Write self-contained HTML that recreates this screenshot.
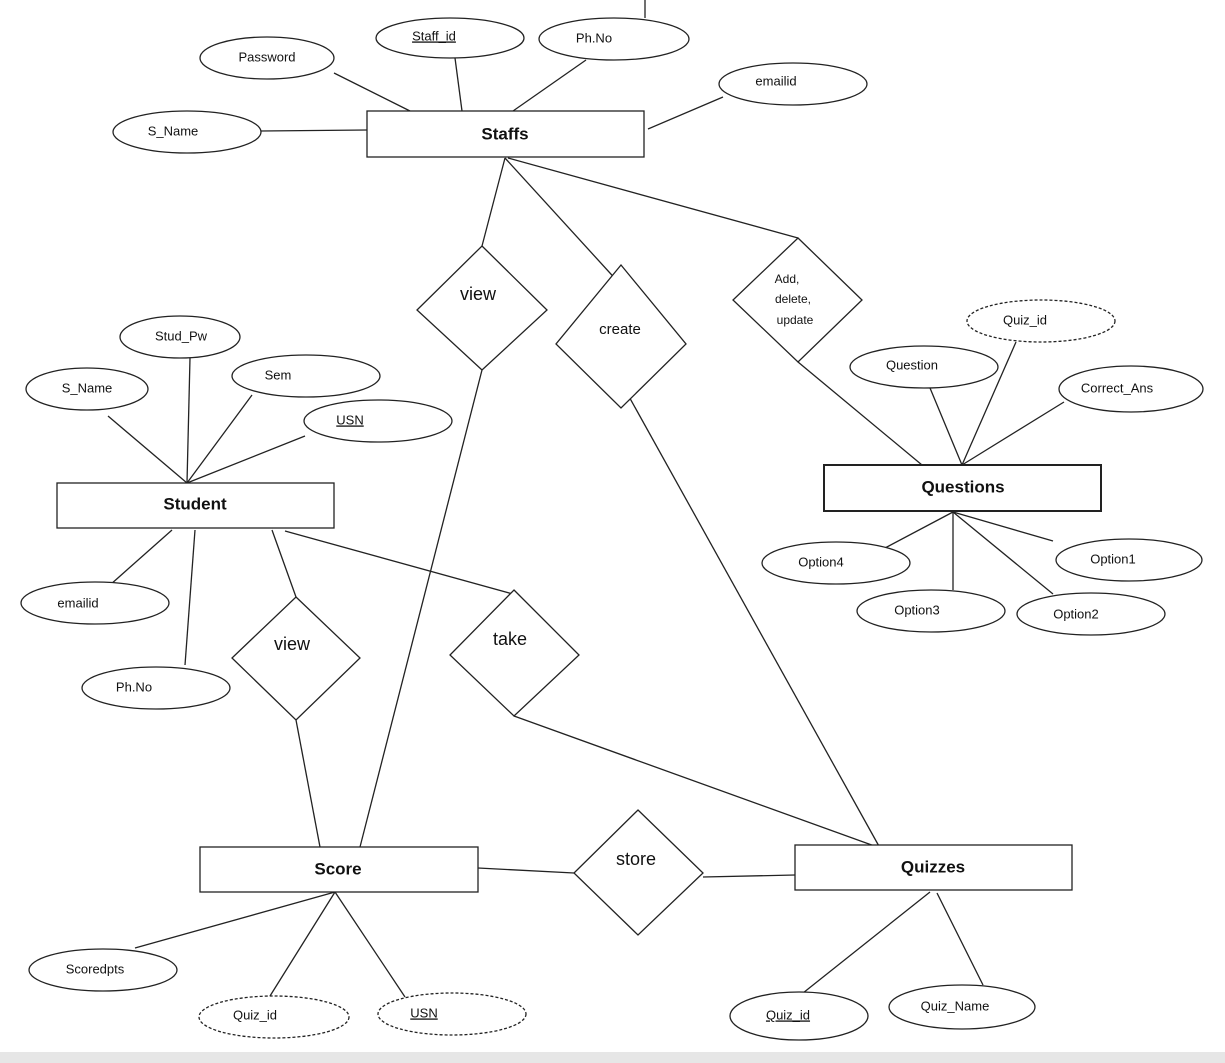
<!DOCTYPE html>
<html><head><style>
html,body{margin:0;padding:0;background:#fff;}
svg{display:block;}
text{font-family:"Liberation Sans",sans-serif;fill:#111;}
.a{font-size:13px;text-anchor:middle;dominant-baseline:middle;}
.e{font-size:17px;font-weight:bold;text-anchor:middle;dominant-baseline:middle;}
.d{font-size:18px;text-anchor:middle;dominant-baseline:middle;}
</style></head><body>
<svg width="1225" height="1063" viewBox="0 0 1225 1063" xmlns="http://www.w3.org/2000/svg">
<rect x="0" y="0" width="1225" height="1063" fill="#fff"/>
<rect x="0" y="1052" width="1225" height="11" fill="#e6e6e6"/>
<g stroke="#222" stroke-width="1.3" fill="none">
<line x1="645" y1="0" x2="645" y2="18"/>
<!-- staffs lines -->
<line x1="334" y1="73" x2="410" y2="111"/>
<line x1="455" y1="58" x2="462" y2="111"/>
<line x1="586" y1="60" x2="513" y2="111"/>
<line x1="723" y1="97" x2="648" y2="129"/>
<line x1="261" y1="131" x2="367" y2="130"/>
<line x1="505" y1="158" x2="482" y2="246"/>
<line x1="505" y1="158" x2="620" y2="284"/>
<line x1="508" y1="158" x2="798" y2="238"/>
<line x1="482" y1="370" x2="360" y2="847"/>
<line x1="622" y1="384" x2="880" y2="848"/>
<line x1="798" y1="362" x2="922" y2="465"/>
<!-- questions -->
<line x1="930" y1="388" x2="962" y2="465"/>
<line x1="1016" y1="342" x2="962" y2="465"/>
<line x1="1064" y1="402" x2="962" y2="465"/>
<line x1="953" y1="512" x2="885" y2="548"/>
<line x1="953" y1="512" x2="1053" y2="541"/>
<line x1="953" y1="512" x2="953" y2="590"/>
<line x1="953" y1="512" x2="1053" y2="594"/>
<!-- student -->
<line x1="190" y1="358" x2="187" y2="483"/>
<line x1="252" y1="395" x2="187" y2="483"/>
<line x1="108" y1="416" x2="187" y2="483"/>
<line x1="305" y1="436" x2="187" y2="483"/>
<line x1="172" y1="530" x2="110" y2="585"/>
<line x1="195" y1="530" x2="185" y2="665"/>
<line x1="272" y1="530" x2="296" y2="597"/>
<line x1="285" y1="531" x2="520" y2="596"/>
<line x1="296" y1="720" x2="320" y2="847"/>
<line x1="514" y1="716" x2="880" y2="848"/>
<!-- score/quizzes -->
<line x1="478" y1="868" x2="574" y2="873"/>
<line x1="703" y1="877" x2="795" y2="875"/>
<line x1="335" y1="892" x2="135" y2="948"/>
<line x1="335" y1="892" x2="270" y2="996"/>
<line x1="335" y1="892" x2="405" y2="997"/>
<line x1="930" y1="892" x2="803" y2="993"/>
<line x1="937" y1="893" x2="983" y2="985"/>
</g>
<g stroke="#222" stroke-width="1.3" fill="#fff">
<rect x="367" y="111" width="277" height="46"/>
<rect x="824" y="465" width="277" height="46" stroke-width="2"/>
<rect x="57" y="483" width="277" height="45"/>
<rect x="200" y="847" width="278" height="45"/>
<rect x="795" y="845" width="277" height="45"/>
<polygon points="482,246 547,310 482,370 417,310"/>
<polygon points="621,265 686,344 621,408 556,344"/>
<polygon points="798,238 862,300 798,362 733,300"/>
<polygon points="296,597 360,658 296,720 232,658"/>
<polygon points="514,590 579,655 514,716 450,655"/>
<polygon points="638,810 703,873 638,935 574,873"/>
<ellipse cx="267" cy="58" rx="67" ry="21"/>
<ellipse cx="450" cy="38" rx="74" ry="20"/>
<ellipse cx="614" cy="39" rx="75" ry="21"/>
<ellipse cx="793" cy="84" rx="74" ry="21"/>
<ellipse cx="187" cy="132" rx="74" ry="21"/>
<ellipse cx="1041" cy="321" rx="74" ry="21" stroke-dasharray="3,2"/>
<ellipse cx="924" cy="367" rx="74" ry="21"/>
<ellipse cx="1131" cy="389" rx="72" ry="23"/>
<ellipse cx="836" cy="563" rx="74" ry="21"/>
<ellipse cx="1129" cy="560" rx="73" ry="21"/>
<ellipse cx="931" cy="611" rx="74" ry="21"/>
<ellipse cx="1091" cy="614" rx="74" ry="21"/>
<ellipse cx="180" cy="337" rx="60" ry="21"/>
<ellipse cx="306" cy="376" rx="74" ry="21"/>
<ellipse cx="87" cy="389" rx="61" ry="21"/>
<ellipse cx="378" cy="421" rx="74" ry="21"/>
<ellipse cx="95" cy="603" rx="74" ry="21"/>
<ellipse cx="156" cy="688" rx="74" ry="21"/>
<ellipse cx="103" cy="970" rx="74" ry="21"/>
<ellipse cx="274" cy="1017" rx="75" ry="21" stroke-dasharray="3,2"/>
<ellipse cx="452" cy="1014" rx="74" ry="21" stroke-dasharray="3,2"/>
<ellipse cx="799" cy="1016" rx="69" ry="24"/>
<ellipse cx="962" cy="1007" rx="73" ry="22"/>
</g>
<text class="e" x="505" y="135">Staffs</text>
<text class="e" x="963" y="488">Questions</text>
<text class="e" x="195" y="505">Student</text>
<text class="e" x="338" y="870">Score</text>
<text class="e" x="933" y="868">Quizzes</text>
<text class="d" x="478" y="295">view</text>
<text class="a" x="620" y="330" style="font-size:15px">create</text>
<text class="a" x="787" y="280" style="font-size:12px">Add,</text>
<text class="a" x="793" y="300" style="font-size:12px">delete,</text>
<text class="a" x="795" y="321" style="font-size:12px">update</text>
<text class="d" x="292" y="645">view</text>
<text class="d" x="510" y="640">take</text>
<text class="d" x="636" y="860">store</text>
<text class="a" x="267" y="58">Password</text>
<text class="a" x="434" y="37" text-decoration="underline">Staff_id</text>
<text class="a" x="594" y="39">Ph.No</text>
<text class="a" x="776" y="82">emailid</text>
<text class="a" x="173" y="132">S_Name</text>
<text class="a" x="1025" y="321">Quiz_id</text>
<text class="a" x="912" y="366">Question</text>
<text class="a" x="1117" y="389">Correct_Ans</text>
<text class="a" x="821" y="563">Option4</text>
<text class="a" x="1113" y="560">Option1</text>
<text class="a" x="917" y="611">Option3</text>
<text class="a" x="1076" y="615">Option2</text>
<text class="a" x="181" y="337">Stud_Pw</text>
<text class="a" x="278" y="376">Sem</text>
<text class="a" x="87" y="389">S_Name</text>
<text class="a" x="350" y="421" text-decoration="underline">USN</text>
<text class="a" x="78" y="604">emailid</text>
<text class="a" x="134" y="688">Ph.No</text>
<text class="a" x="95" y="970">Scoredpts</text>
<text class="a" x="255" y="1016">Quiz_id</text>
<text class="a" x="424" y="1014" text-decoration="underline">USN</text>
<text class="a" x="788" y="1016" text-decoration="underline">Quiz_id</text>
<text class="a" x="955" y="1007">Quiz_Name</text>
</svg>
</body></html>
